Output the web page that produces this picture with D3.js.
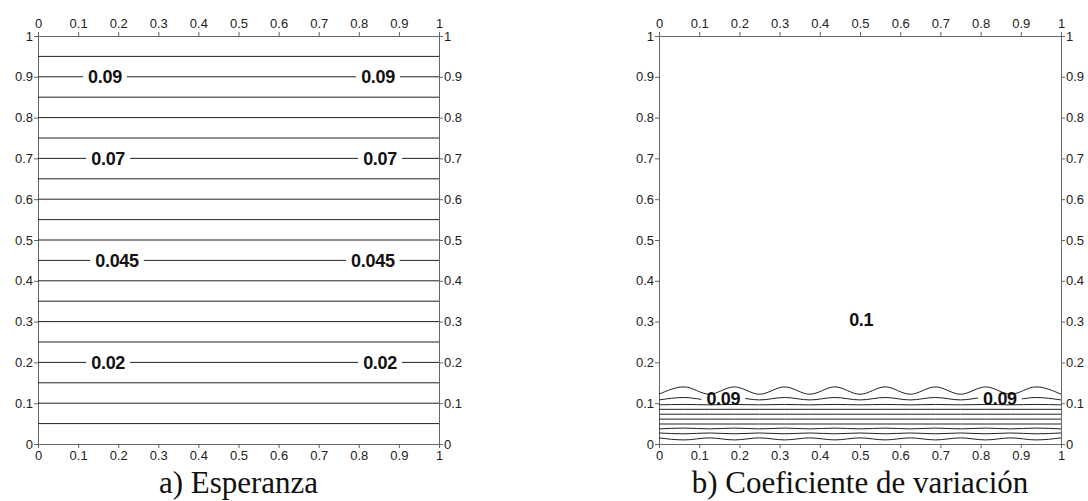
<!DOCTYPE html>
<html>
<head>
<meta charset="utf-8">
<script src="https://cdn.jsdelivr.net/npm/d3@7"></script>
<style>
  body { margin: 0; background: #fff; }
  svg { display: block; }
  .lbl { font-family: "Liberation Sans", Arial, sans-serif; font-weight: bold; font-size: 18px; fill: #111; letter-spacing: -0.3px; }
  .cap { font-family: "Liberation Serif", "Times New Roman", serif; font-size: 31px; fill: #111; }
</style>
</head>
<body>
<svg id="chart" width="1088" height="501"></svg>
<script>
// axis ticks shared by both panels
const tickVals = [0, 0.1, 0.2, 0.3, 0.4, 0.5, 0.6, 0.7, 0.8, 0.9, 1]

// a) Esperanza : horizontal isolines (levels 0.005 .. 0.095)
const leftLineY = [0.05, 0.1, 0.15, 0.2, 0.25, 0.3, 0.35, 0.4, 0.45, 0.5,
                   0.55, 0.6, 0.65, 0.7, 0.75, 0.8, 0.85, 0.9, 0.95]
const leftLabelText = ['0.09', '0.07', '0.045', '0.02']
const leftLabelY = [0.9, 0.7, 0.45, 0.2]
const leftLabelXa = [0.167, 0.175, 0.197, 0.175]
const leftLabelXb = [0.848, 0.853, 0.835, 0.853]

// b) Coeficiente de variacion : isolines near the bottom edge
const rightX = [0, 0.0625, 0.125, 0.1875, 0.25, 0.3125, 0.375, 0.4375, 0.5,
                0.5625, 0.625, 0.6875, 0.75, 0.8125, 0.875, 0.9375, 1]
const rightLines = [
  [0.122, 0.14, 0.122, 0.14, 0.122, 0.14, 0.122, 0.14, 0.122, 0.14, 0.122, 0.14, 0.122, 0.14, 0.122, 0.14, 0.122],
  [0.108, 0.114, 0.108, 0.114, 0.108, 0.114, 0.108, 0.114, 0.108, 0.114, 0.108, 0.114, 0.108, 0.114, 0.108, 0.114, 0.108],
  [0.096, 0.097, 0.096, 0.097, 0.096, 0.097, 0.096, 0.097, 0.096, 0.097, 0.096, 0.097, 0.096, 0.097, 0.096, 0.097, 0.096],
  [0.085, 0.085, 0.085, 0.085, 0.085, 0.085, 0.085, 0.085, 0.085, 0.085, 0.085, 0.085, 0.085, 0.085, 0.085, 0.085, 0.085],
  [0.073, 0.073, 0.073, 0.073, 0.073, 0.073, 0.073, 0.073, 0.073, 0.073, 0.073, 0.073, 0.073, 0.073, 0.073, 0.073, 0.073],
  [0.061, 0.061, 0.061, 0.061, 0.061, 0.061, 0.061, 0.061, 0.061, 0.061, 0.061, 0.061, 0.061, 0.061, 0.061, 0.061, 0.061],
  [0.049, 0.049, 0.049, 0.049, 0.049, 0.049, 0.049, 0.049, 0.049, 0.049, 0.049, 0.049, 0.049, 0.049, 0.049, 0.049, 0.049],
  [0.037, 0.039, 0.037, 0.039, 0.037, 0.039, 0.037, 0.039, 0.037, 0.039, 0.037, 0.039, 0.037, 0.039, 0.037, 0.039, 0.037],
  [0.027, 0.025, 0.027, 0.025, 0.027, 0.025, 0.027, 0.025, 0.027, 0.025, 0.027, 0.025, 0.027, 0.025, 0.027, 0.025, 0.027],
  [0.015, 0.010, 0.015, 0.010, 0.015, 0.010, 0.015, 0.010, 0.015, 0.010, 0.015, 0.010, 0.015, 0.010, 0.015, 0.010, 0.015]
]
const rightLabelText = ['0.09', '0.09']
const rightLabelX = [0.16, 0.848]
const rightLabelY = [0.111, 0.111]
const regionLabel = '0.1'
const regionLabelX = 0.503
const regionLabelY = 0.304

const captions = ['a) Esperanza', 'b) Coeficiente de variación']

const svg = d3.select('#chart')
const plotTop = 36, plotBottom = 444

function panel(left, right, id) {
  const x = d3.scaleLinear().domain([0, 1]).range([left, right])
  const y = d3.scaleLinear().domain([0, 1]).range([plotBottom, plotTop])
  const g = svg.append('g')

  g.append('clipPath').attr('id', id)
    .append('rect').attr('x', left).attr('y', plotTop)
    .attr('width', right - left).attr('height', plotBottom - plotTop)

  const fmt = d => String(+d.toFixed(1))
  const mk = (ax, tr) => {
    const a = g.append('g').attr('transform', tr)
      .call(ax.tickValues(tickVals).tickFormat(fmt).tickSize(4).tickSizeOuter(0))
    a.selectAll('.tick line').attr('stroke', '#666')
    a.selectAll('.tick text')
      .style('font-size', '13px')
      .style('font-family', '"Liberation Sans", Arial, sans-serif')
      .style('fill', '#222')
    a.select('.domain').attr('stroke', '#666')
    return a
  }

  mk(d3.axisTop(x).tickPadding(4), `translate(0,${plotTop})`)
  mk(d3.axisBottom(x).tickPadding(3), `translate(0,${plotBottom})`)
  mk(d3.axisLeft(y).tickPadding(1), `translate(${left},0)`)
  mk(d3.axisRight(y).tickPadding(1), `translate(${right},0)`)

  const lines = g.append('g').attr('clip-path', `url(#${id})`)
  return { x, y, g, lines }
}

function addLabel(g, x, y, txt, gap) {
  const t = g.append('text').attr('class', 'lbl')
    .attr('x', x).attr('y', y).attr('dy', '0.35em')
    .attr('text-anchor', 'middle').text(txt)
  if (gap) {
    const w = t.node().getComputedTextLength()
    g.insert('rect', 'text').attr('x', x - w / 2 - 5).attr('y', y - gap / 2)
      .attr('width', w + 10).attr('height', gap).attr('fill', '#fff')
  }
}

// ---- panel a
const A = panel(38, 439, 'clipA')
A.lines.selectAll('line').data(leftLineY).enter().append('line')
  .attr('x1', A.x(0)).attr('x2', A.x(1))
  .attr('y1', d => A.y(d)).attr('y2', d => A.y(d))
  .attr('stroke', '#222').attr('stroke-width', 1)
const labA = A.g.append('g')
leftLabelText.forEach((t, i) => {
  addLabel(labA, A.x(leftLabelXa[i]), A.y(leftLabelY[i]), t, 6)
  addLabel(labA, A.x(leftLabelXb[i]), A.y(leftLabelY[i]), t, 6)
})

// ---- panel b
const B = panel(659, 1061, 'clipB')
const lineGen = d3.line()
  .x((d, i) => B.x(rightX[i]))
  .y(d => B.y(d))
  .curve(d3.curveMonotoneX)
B.lines.selectAll('path').data(rightLines).enter().append('path')
  .attr('d', lineGen).attr('fill', 'none')
  .attr('stroke', '#222').attr('stroke-width', 1)
const labB = B.g.append('g')
rightLabelText.forEach((t, i) => {
  addLabel(labB, B.x(rightLabelX[i]), B.y(rightLabelY[i]), t, 4)
})
addLabel(labB, B.x(regionLabelX), B.y(regionLabelY), regionLabel, 0)

// ---- captions
svg.append('text').attr('class', 'cap').attr('x', (38 + 439) / 2).attr('y', 493)
  .attr('text-anchor', 'middle').text(captions[0])
svg.append('text').attr('class', 'cap').attr('x', (659 + 1061) / 2).attr('y', 493)
  .attr('text-anchor', 'middle').text(captions[1])
</script>
</body>
</html>
